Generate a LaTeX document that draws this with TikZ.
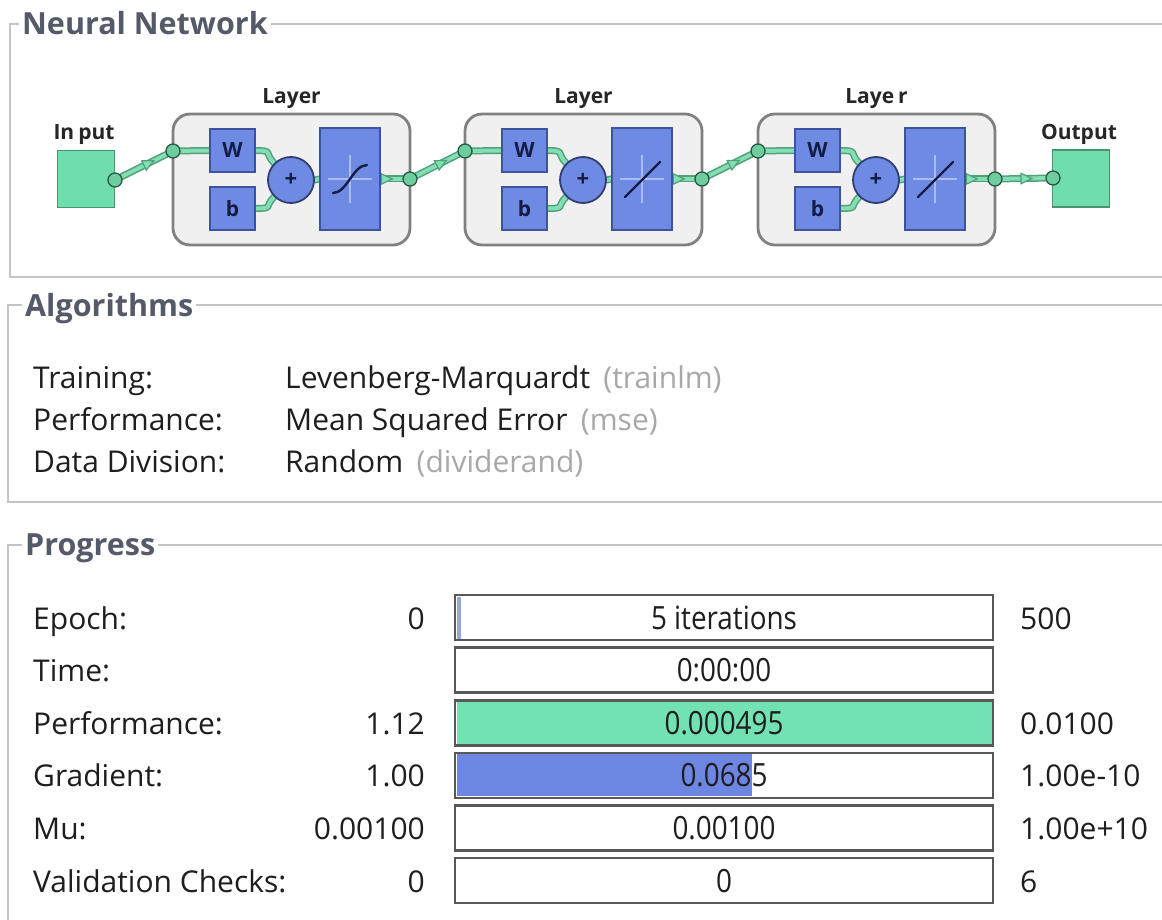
\documentclass[tikz,border=0pt]{standalone}
\usepackage{fontspec}
\setmainfont{Open Sans}
\usetikzlibrary{arrows.meta,decorations.markings,calc}
\pgfdeclarelayer{bglayer}
\pgfdeclarelayer{linelayer}
\pgfsetlayers{bglayer,linelayer,main}

\definecolor{grpline}{RGB}{196,196,196}
\definecolor{grptitle}{RGB}{84,90,104}
\definecolor{txt}{RGB}{30,30,30}
\definecolor{parenc}{RGB}{168,168,168}
\definecolor{nngreen}{RGB}{112,222,172}
\definecolor{nngreenD}{RGB}{72,150,112}
\definecolor{nnblue}{RGB}{110,138,226}
\definecolor{nnblueD}{RGB}{62,82,160}
\definecolor{sumD}{RGB}{50,62,115}
\definecolor{layerbg}{RGB}{240,240,240}
\definecolor{layerbd}{RGB}{128,128,128}
\definecolor{barbd}{RGB}{88,88,88}
\definecolor{bargreen}{RGB}{114,226,178}
\definecolor{barblue}{RGB}{108,134,226}
\definecolor{epochc}{RGB}{150,168,215}
\definecolor{navy}{RGB}{20,28,70}
\definecolor{sigD}{RGB}{80,160,122}
\definecolor{sigF}{RGB}{132,222,180}
\definecolor{portF}{RGB}{110,205,158}
\definecolor{portD}{RGB}{40,90,66}
\definecolor{crossc}{RGB}{168,188,245}

\tikzset{
 grp/.style={draw=grpline, line width=1.8},
 grouptitle/.style={font=\fontsize{30.5}{35}\selectfont\bfseries, text=grptitle, anchor=base west, inner xsep=3, inner ysep=1, fill=white},
 body/.style={font=\fontsize{30}{36}\selectfont, text=txt, anchor=base west, inner sep=0},
 parentext/.style={body, text=parenc},
 valr/.style={body, anchor=base east},
 bar/.style={draw=barbd, line width=2.6, fill=white, minimum width=538, minimum height=45, inner sep=0},
 bartext/.style={font=\fontsize{32}{38}\selectfont, text=txt, anchor=base, inner sep=0},
 nnlabel/.style={font=\fontsize{21}{25}\selectfont\bfseries, text=black!85, anchor=base, inner sep=0},
 iobox/.style={draw=nngreenD, line width=1.6, fill=nngreen, minimum size=57, inner sep=0},
 layerbox/.style={draw=layerbd, line width=2.8, fill=layerbg, rounded corners=17, minimum width=237, minimum height=131, inner sep=0},
 wbox/.style={draw=nnblueD, line width=1.4, fill=nnblue, minimum width=45, minimum height=43, inner sep=0, font=\fontsize{21}{25}\selectfont\bfseries, text=navy},
 tfbox/.style={draw=nnblueD, line width=1.4, fill=nnblue, minimum width=60, minimum height=102, inner sep=0},
 sumnode/.style={circle, draw=sumD, line width=1.8, fill=nnblue, minimum size=46, inner sep=0, font=\fontsize{22}{26}\selectfont\bfseries, text=navy},
 port/.style={circle, draw=portD, line width=1.3, fill=portF, minimum size=14, inner sep=0},
 sig/.style={draw=sigD, line width=7, line cap=round, postaction={draw=sigF, line width=4}},
 sigarrow/.style={sig, postaction={decorate, decoration={markings, mark=at position #1 with {\arrow[sigD]{Triangle[length=13pt,width=12pt,fill=sigF,line width=1.2pt]}}}}},
 tfline/.style={draw=navy, line width=2.4, line cap=round},
 crossline/.style={draw=crossc, line width=1.2},
}

\begin{document}
\begin{tikzpicture}[x=1pt,y=-1pt]
\useasboundingbox (0,0) rectangle (1162,920);
\begin{pgfonlayer}{bglayer}
 \fill[white] (0,0) rectangle (1162,920);
\end{pgfonlayer}

% ---------- group boxes ----------
\draw[grp] (1162,24) -- (10,24) -- (10,277) -- (1162,277);
\node[grouptitle] (nnT) at (19,35) {Neural Network};
\draw[grp] (1162,305) -- (8,305) -- (8,502) -- (1162,502);
\node[grouptitle] (algT) at (22,316) {Algorithms};
\draw[grp] (1162,545) -- (8,545) -- (8,920);
\node[grouptitle] (prgT) at (22,555) {Progress};

% ---------- neural network ----------
\node[iobox] (inp) at (86,179) {};
\node[nnlabel] (inpL) at (84,140) {In\kern4pt put};
\node[port] (inP) at (115,180) {};
\node[iobox] (outp) at (1081,178.5) {};
\node[nnlabel] (outL) at (1079,140) {Output};
\node[port] (outP) at (1053,178) {};

\foreach \i/\xl/\lab in {1/173/Layer,2/465/Layer,3/758/{Laye\kern4pt r}} {
 \begin{pgfonlayer}{bglayer}
  \node[layerbox] (L\i) at (\xl+118.5,179.5) {};
 \end{pgfonlayer}
 \node[nnlabel] (LT\i) at (\xl+118.5,104) {\lab};
 \node[wbox] (W\i) at (\xl+59.5,150.5) {W};
 \node[wbox] (B\i) at (\xl+59.5,208.5) {b};
 \node[sumnode] (S\i) at (\xl+118,180) {+};
 \node[tfbox] (T\i) at (\xl+177,179) {};
 \draw[crossline] ($(T\i)+(-22,0)$) -- ($(T\i)+(22,0)$);
 \draw[crossline] ($(T\i)+(0,-24)$) -- ($(T\i)+(0,24)$);
 \ifnum\i=1
  \draw[tfline] ($(T\i)+(-17,14)$) .. controls ($(T\i)+(-3,14)$) and ($(T\i)+(3,-14)$) .. ($(T\i)+(17,-14)$);
 \else
  \draw[tfline] ($(T\i)+(-17,18)$) -- ($(T\i)+(18,-17)$);
 \fi
 \node[port] (I\i) at (\xl,151) {};
 \node[port] (O\i) at (\xl+237,179) {};
 \begin{pgfonlayer}{linelayer}
  \draw[sig] (I\i) -- (W\i.west);
  \draw[sig] (W\i.east) .. controls +(18,0) and +(-10,-10) .. (S\i.135);
  \draw[sig] (B\i.east) .. controls +(18,0) and +(-10,10) .. (S\i.-135);
  \draw[sig] (S\i.east) -- (T\i.west);
  \draw[sigarrow=0.6] (T\i.east) -- (O\i);
 \end{pgfonlayer}
}
\begin{pgfonlayer}{linelayer}
 \draw[sigarrow=0.75] (inP) -- (I1);
 \draw[sigarrow=0.75] (O1) -- (I2);
 \draw[sigarrow=0.75] (O2) -- (I3);
 \draw[sigarrow=0.72] (O3) -- (outP);
\end{pgfonlayer}

% ---------- algorithms ----------
\node[body] (trL) at (33,388) {Training:};
\node[body] (trV) at (285,388) {Levenberg-Marquardt};
\node[parentext] (trP) at ([xshift=13]trV.base east) {(trainlm)};
\node[body] (pfL) at (33,430) {Performance:};
\node[body] (pfV) at (285,430) {Mean Squared Error};
\node[parentext] (pfP) at ([xshift=13]pfV.base east) {(mse)};
\node[body] (ddL) at (33,472) {Data Division:};
\node[body] (ddV) at (285,472) {Random};
\node[parentext] (ddP) at ([xshift=13]ddV.base east) {(dividerand)};

% ---------- progress ----------
\foreach \i/\lab/\lv/\bt/\rv in {0/Epoch:/0/5 iterations/500,1/Time://0:00:00/,2/Performance:/1.12/0.000495/0.0100,3/Gradient:/1.00/0.0685/1.00e-10,4/Mu:/0.00100/0.00100/1.00e+10,5/Validation Checks:/0/0/6} {
 \pgfmathsetmacro{\yc}{617.5+52.6*\i}
 \node[bar] (bar\i) at (724,\yc) {};
 \ifcase\i
  \fill[epochc] (456.5,\yc-21) rectangle (461,\yc+21);
 \or
 \or
  \fill[bargreen] (456.5,\yc-21) rectangle (991.5,\yc+21);
 \or
  \fill[barblue] (456.5,\yc-21) rectangle (752,\yc+21);
 \else
 \fi
 \node[bartext] (bt\i) at (724,\yc+11.5) {\scalebox{0.87}[1]{\bt}};
 \node[body] (pl\i) at (33,\yc+11.5) {\lab};
 \node[valr] (pv\i) at (425,\yc+11.5) {\lv};
 \node[body] (pr\i) at (1020,\yc+11.5) {\rv};
}
\end{tikzpicture}
\end{document}
